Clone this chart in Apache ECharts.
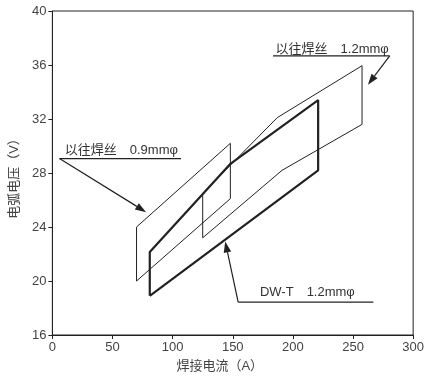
<!DOCTYPE html>
<html><head><meta charset="utf-8">
<script src="https://cdn.jsdelivr.net/npm/echarts@6/dist/echarts.min.js"></script>
<style>html,body{margin:0;padding:0;background:#fff}#c{width:427px;height:378px}</style>
</head><body><div id="c"></div>
<script>
// Data (A, V)
const wire09_x = [70, 70, 148, 148, 70];
const wire09_y = [20, 24, 30.2, 26.1, 20];
const wire12_x = [125, 125, 187, 257.5, 257.5, 191, 125];
const wire12_y = [23.2, 26.5, 32.1, 35.95, 31.6, 28.2, 23.2];
const dwt_x = [81, 81, 147.7, 221, 221, 81];
const dwt_y = [18.9, 22.15, 28.65, 33.4, 28.2, 18.9];
const xTicks = [0, 50, 100, 150, 200, 250, 300];
const yTicks = [16, 20, 24, 28, 32, 36, 40];
const xName = '焊接电流（A）';
const yName = '电弧电压（V）';
// annotations (label text, label anchor, underline start/end, arrow tip) in data units
const ann_labels = ['以往焊丝　0.9mmφ', '以往焊丝　1.2mmφ', 'DW-T　1.2mmφ'];
const ann_text_pos = [[10.3, 29.67], [185.6, 37.17], [172.6, 19.12]];
const ann_line_start = [[5.9, 29.07], [183.5, 36.68], [154.5, 18.43]];
const ann_line_end = [[107, 29.07], [280.5, 36.68], [266.9, 18.43]];
const ann_arrow_from = [[5.9, 29.07], [280.5, 36.68], [154.5, 18.43]];
const ann_arrow_tip = [[78, 25.1], [262.4, 34.54], [143.7, 22.93]];

const FONT = "'Liberation Sans', 'Noto Sans CJK SC', sans-serif";
const ink = '#222';
function pairs(xs, ys) { return xs.map((x, i) => [x, ys[i]]); }

const chart = echarts.init(document.getElementById('c'));
const option = {
  animation: false,
  backgroundColor: '#fff',
  grid: { left: 50, right: 8, top: 11, bottom: 38, show: true, borderColor: ink, borderWidth: 1, backgroundColor: 'transparent' },
  xAxis: {
    type: 'value', min: 0, max: 300, interval: 50,
    name: xName, nameLocation: 'middle', nameGap: 25,
    nameTextStyle: { fontFamily: FONT, fontSize: 13, color: '#444', padding: [0, 26, 0, 0] },
    axisLine: { show: true, lineStyle: { color: ink, width: 1 } },
    axisTick: { show: true, length: 4, lineStyle: { color: ink } },
    axisLabel: { fontFamily: FONT, fontSize: 13, color: '#444', margin: 6,
      formatter: v => xTicks.includes(v) ? String(v) : '' },
    splitLine: { show: false }
  },
  yAxis: {
    type: 'value', min: 16, max: 40, interval: 4,
    name: yName, nameLocation: 'middle', nameGap: 29, nameRotate: 90,
    nameTextStyle: { fontFamily: FONT, fontSize: 13, color: '#444', padding: [0, 5, 0, 0] },
    axisLine: { show: true, lineStyle: { color: ink, width: 1 } },
    axisTick: { show: true, length: 4, lineStyle: { color: ink } },
    axisLabel: { fontFamily: FONT, fontSize: 13, color: '#444', margin: 6,
      formatter: v => yTicks.includes(v) ? String(v) : '' },
    splitLine: { show: false }
  },
  series: [
    { name: '以往焊丝 0.9mmφ', type: 'line', data: pairs(wire09_x, wire09_y), showSymbol: false,
      lineStyle: { color: ink, width: 1 }, silent: true },
    { name: '以往焊丝 1.2mmφ', type: 'line', data: pairs(wire12_x, wire12_y), showSymbol: false,
      lineStyle: { color: ink, width: 1 }, silent: true },
    { name: 'DW-T 1.2mmφ', type: 'line', data: pairs(dwt_x, dwt_y), showSymbol: false,
      lineStyle: { color: ink, width: 2.2 }, silent: true }
  ]
};
chart.setOption(option);

function px(p) { return chart.convertToPixel({ gridIndex: 0 }, p); }
const g = [];
for (let i = 0; i < ann_labels.length; i++) {
  const tp = px(ann_text_pos[i]);
  g.push({ type: 'text', x: tp[0], y: tp[1], style: { text: ann_labels[i], fontFamily: FONT, fontSize: 13, fill: '#333', textAlign: 'left', textVerticalAlign: 'middle' } });
  const a = px(ann_line_start[i]), b = px(ann_line_end[i]);
  g.push({ type: 'line', shape: { x1: a[0], y1: a[1], x2: b[0], y2: b[1] }, style: { stroke: ink, lineWidth: 1.2 } });
  const f = px(ann_arrow_from[i]), t = px(ann_arrow_tip[i]);
  const dx = t[0] - f[0], dy = t[1] - f[1], L = Math.hypot(dx, dy);
  const ux = dx / L, uy = dy / L, hl = 11, hw = 3.8;
  const bx = t[0] - ux * hl, by = t[1] - uy * hl;
  g.push({ type: 'line', shape: { x1: f[0], y1: f[1], x2: bx, y2: by }, style: { stroke: ink, lineWidth: 1.2 } });
  g.push({ type: 'polygon', shape: { points: [[t[0], t[1]], [bx - uy * hw, by + ux * hw], [bx + uy * hw, by - ux * hw]] }, style: { fill: ink } });
}
chart.setOption({ graphic: g });
</script>
</body></html>
